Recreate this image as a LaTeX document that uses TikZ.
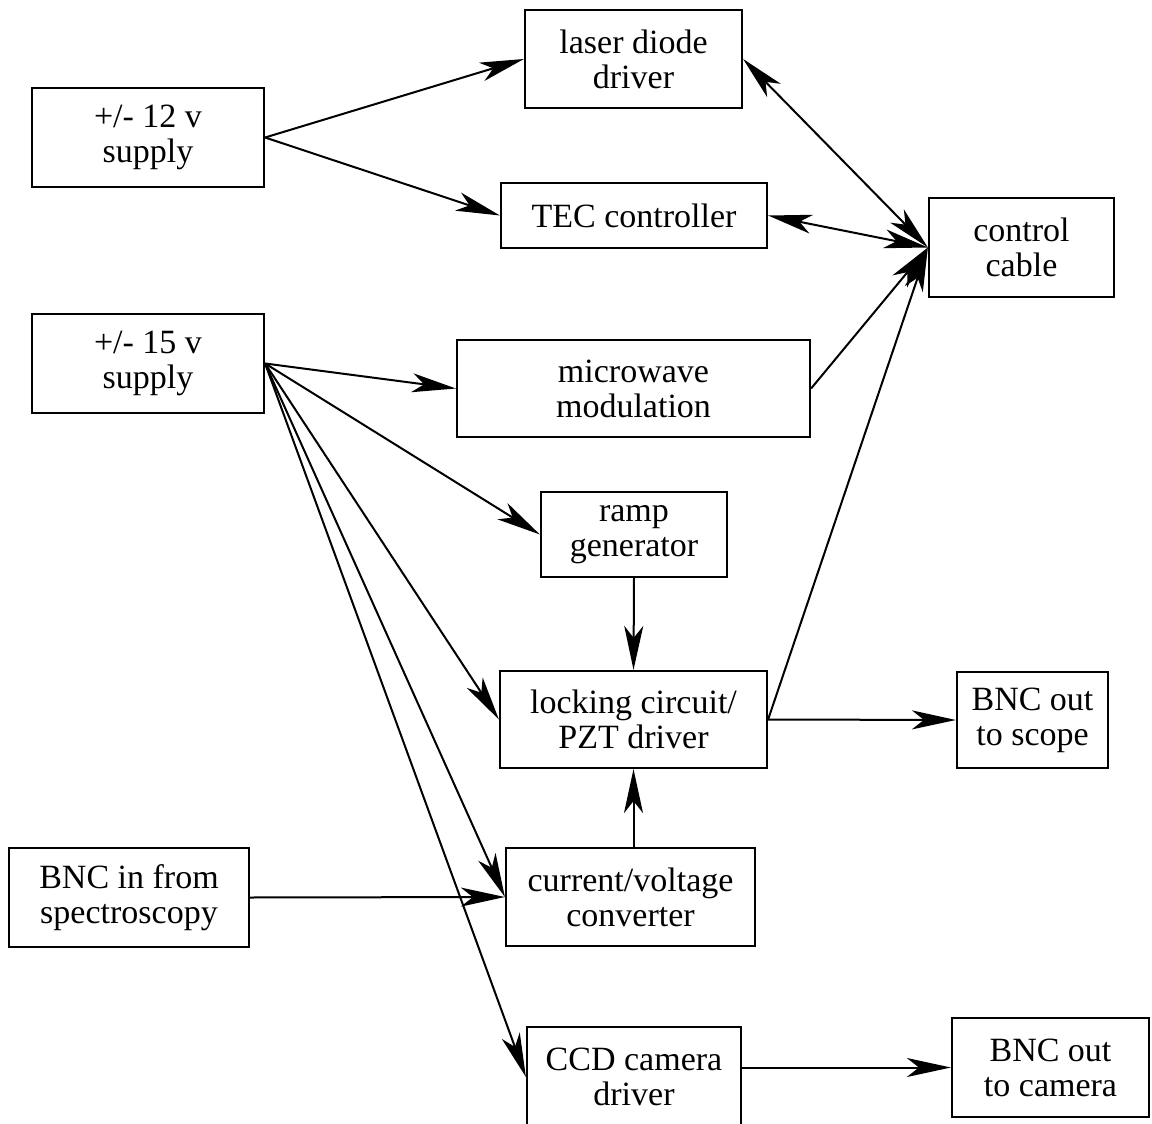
\documentclass[tikz,border=0pt]{standalone}
\usepackage{fontspec}
\setmainfont{Liberation Serif}
\usetikzlibrary{arrows.meta}
\begin{document}
\begin{tikzpicture}[x=1pt,y=-1pt,
  blk/.style={draw, line width=2.2pt, inner sep=0pt, align=center,
    font=\fontsize{34}{35}\selectfont},
  conn/.style={line width=2pt, -{Stealth[length=44pt,width=19pt,inset=12pt]}},
  bconn/.style={line width=2pt, {Stealth[length=44pt,width=19pt,inset=12pt]}-{Stealth[length=44pt,width=19pt,inset=12pt]}}]
\useasboundingbox[fill=white] (0,0) rectangle (1152,1124);
\node[blk, minimum width=217pt, minimum height=98pt] (laser) at (633.5,59) {laser diode\\driver};
\node[blk, minimum width=232pt, minimum height=99pt] (v12) at (148,137.5) {+/- 12 v\\supply};
\node[blk, minimum width=266pt, minimum height=65pt] (tec) at (634,215.5) {TEC controller};
\node[blk, minimum width=185pt, minimum height=99pt] (cable) at (1021.5,247.5) {control\\cable};
\node[blk, minimum width=232pt, minimum height=99pt] (v15) at (148,363.5) {+/- 15 v\\supply};
\node[blk, minimum width=353pt, minimum height=97pt] (micro) at (633.5,388.5) {microwave\\modulation};
\node[blk, minimum width=186pt, minimum height=85pt] (ramp) at (634,534.5) {ramp\\generator};
\node[blk, minimum width=267pt, minimum height=97pt] (lock) at (633.5,719.5) {locking circuit/\\PZT driver};
\node[blk, minimum width=151pt, minimum height=96pt] (scope) at (1032.5,720) {BNC out\\to scope};
\node[blk, minimum width=240pt, minimum height=99pt] (bncin) at (129,897.5) {BNC in from\\spectroscopy};
\node[blk, minimum width=249pt, minimum height=98pt] (cv) at (630.5,897) {current/voltage\\converter};
\node[blk, minimum width=214pt, minimum height=100pt] (ccd) at (634,1077) {CCD camera\\driver};
\node[blk, minimum width=197pt, minimum height=99pt] (cam) at (1050.5,1067.5) {BNC out\\to camera};

\draw[conn] (v12.east) -- (laser.west);
\draw[conn] (v12.east) -- (tec.west);
\draw[bconn] (laser.east) -- (cable.west);
\draw[bconn] (tec.east) -- (cable.west);
\draw[conn] (micro.east) -- (cable.west);
\draw[conn] (lock.east) -- (cable.west);
\draw[conn] (v15.east) -- (micro.west);
\draw[conn] (v15.east) -- (ramp.west);
\draw[conn] (v15.east) -- (lock.west);
\draw[conn] (v15.east) -- (cv.west);
\draw[conn] (v15.east) -- (ccd.west);
\draw[conn] (ramp.south) -- (lock.north);
\draw[conn] (lock.south |- cv.north) -- (lock.south);
\draw[conn] (lock.east) -- (scope.west);
\draw[conn] (bncin.east) -- (cv.west);
\draw[conn] (ccd.east |- cam.west) -- (cam.west);
\end{tikzpicture}
\end{document}
